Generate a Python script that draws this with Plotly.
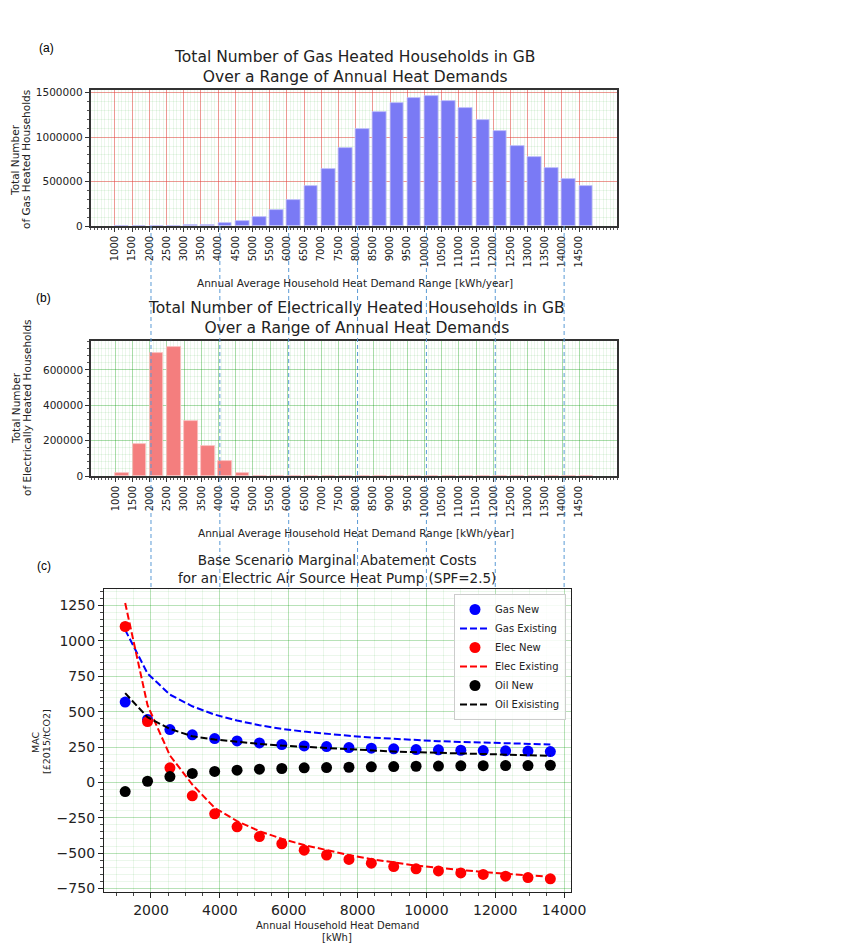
import plotly.graph_objects as go

# ---------------- data ----------------
bins = [1000, 1500, 2000, 2500, 3000, 3500, 4000, 4500, 5000, 5500, 6000, 6500, 7000,
        7500, 8000, 8500, 9000, 9500, 10000, 10500, 11000, 11500, 12000, 12500, 13000,
        13500, 14000, 14500]
bin_labels = [str(b) for b in bins]

gas_households = [0, 0, 1000, 2000, 6000, 15000, 34000, 60000, 102000, 185000, 295000,
                  446000, 645000, 878000, 1092000, 1286000, 1388000, 1440000, 1459000,
                  1406000, 1330000, 1192000, 1070000, 904000, 779000, 658000, 531000, 451000]

elec_households = [18000, 183000, 695000, 727000, 313000, 168000, 82000, 15000, 0, 0, 0, 0,
                   0, 0, 0, 0, 0, 0, 0, 0, 0, 0, 0, 0, 0, 0, 0, 0]

demand_kwh = [1250, 1900, 2550, 3200, 3850, 4500, 5150, 5800, 6450, 7100, 7750, 8400,
              9050, 9700, 10350, 11000, 11650, 12300, 12950, 13600]

gas_new = [568, 445, 373, 336, 310, 293, 279, 267, 258, 253, 246, 242, 237, 232, 230,
           227, 225, 223, 221, 218]
gas_existing = [1078, 770, 620, 538, 479, 437, 404, 378, 359, 343, 329, 317, 307, 298,
                291, 286, 281, 277, 272, 268]
elec_new = [1102, 430, 103, -95, -222, -314, -383, -434, -479, -514, -545, -571, -595,
            -611, -626, -640, -651, -663, -673, -682]
elec_existing = [1268, 545, 190, -15, -180, -274, -345, -399, -443, -481, -514, -543,
                 -566, -588, -604, -620, -634, -646, -658, -668]
oil_new = [-65, 8, 41, 63, 77, 86, 93, 98, 103, 105, 107, 110, 112, 114, 115, 117, 118,
           119, 119, 121]
oil_existing = [631, 460, 378, 326, 303, 286, 272, 260, 251, 242, 232, 225, 218, 213,
                208, 204, 199, 195, 192, 188]

connector_x = [2000, 4000, 6000, 8000, 10000, 12000, 14000]

# ---------------- helpers ----------------
# the page body has an 8px margin, so the figure starts at (8, 8) in the window
OFF = 8
W, H = 864 - OFF, 943 - OFF


def px(x):
    return (x - OFF) / W


def py(y):
    return 1 - (y - OFF) / H


FONT = "DejaVu Sans"
TXT = "#222222"
RED_GRID = "rgba(240,60,60,0.5)"
GREEN_GRID = "rgba(0,150,0,0.28)"
MINOR_GRID = "rgba(0,150,0,0.08)"

fig = go.Figure()

# (a) gas households
fig.add_trace(go.Bar(x=bins, y=gas_households, width=400, offset=0,
                     marker=dict(color="#7a7af5", line=dict(color="#c4c4fa", width=0.8)),
                     xaxis="x", yaxis="y", showlegend=False, hoverinfo="x+y"))
# (b) electric households
fig.add_trace(go.Bar(x=bins, y=elec_households, width=400, offset=0,
                     marker=dict(color="#f47e7e", line=dict(color="#fac2c2", width=0.8)),
                     xaxis="x2", yaxis="y2", showlegend=False, hoverinfo="x+y"))

# (c) MAC
series = [
    ("Gas New", gas_new, "#0000ff", "markers"),
    ("Gas Existing", gas_existing, "#0000ff", "lines"),
    ("Elec New", elec_new, "#ff0000", "markers"),
    ("Elec Existing", elec_existing, "#ff0000", "lines"),
    ("Oil New", oil_new, "#000000", "markers"),
    ("Oil Exisisting", oil_existing, "#000000", "lines"),
]
for name, vals, col, mode in series:
    if mode == "markers":
        fig.add_trace(go.Scatter(x=demand_kwh, y=vals, mode="markers", name=name,
                                 marker=dict(color=col, size=11),
                                 xaxis="x3", yaxis="y3"))
    else:
        fig.add_trace(go.Scatter(x=demand_kwh, y=vals, mode="lines", name=name,
                                 line=dict(color=col, width=2, dash="7px,3px"),
                                 xaxis="x3", yaxis="y3"))


def bar_xaxis(domain, anchor, gridcolor):
    return dict(domain=domain, anchor=anchor, range=[290, 15600],
                tickmode="array", tickvals=bins, ticktext=bin_labels, tickangle=-90,
                ticks="outside", ticklen=4, tickcolor="#333",
                tickfont=dict(family=FONT, size=10, color=TXT),
                showgrid=True, gridcolor=gridcolor, gridwidth=1,
                minor=dict(tickmode="linear", tick0=0, dtick=100, ticks="outside",
                           ticklen=2, tickcolor="#555", showgrid=True,
                           gridcolor=MINOR_GRID),
                showline=True, linecolor="#333", linewidth=1.6, mirror=True,
                zeroline=False, fixedrange=True)


def bar_yaxis(domain, anchor, rng, tickvals, minor_dtick, gridcolor):
    return dict(domain=domain, anchor=anchor, range=rng,
                tickmode="array", tickvals=tickvals, ticktext=[str(v) for v in tickvals],
                ticks="outside", ticklen=4, tickcolor="#333",
                tickfont=dict(family=FONT, size=10.5, color=TXT),
                showgrid=True, gridcolor=gridcolor, gridwidth=1,
                minor=dict(tickmode="linear", tick0=0, dtick=minor_dtick, ticks="outside",
                           ticklen=2, tickcolor="#555", showgrid=True,
                           gridcolor=MINOR_GRID),
                showline=True, linecolor="#333", linewidth=1.6, mirror=True,
                zeroline=False, fixedrange=True)


shapes = []
for cx in connector_x:
    shapes.append(dict(type="line", xref="x3", yref="paper", x0=cx, x1=cx,
                       y0=py(226), y1=py(589),
                       line=dict(color="#5b9bd5", width=1, dash="4px,3px"), layer="above"))


def ann(text, x, y, size, angle=0, family=FONT, color=TXT):
    return dict(text=text, x=px(x), y=py(y), xref="paper", yref="paper",
                showarrow=False, xanchor="center", yanchor="middle",
                textangle=angle, font=dict(family=family, size=size, color=color))


annotations = [
    ann("(a)", 46, 48, 12, family="Liberation Sans", color="#000"),
    ann("(b)", 43, 298, 12, family="Liberation Sans", color="#000"),
    ann("(c)", 44, 566, 12, family="Liberation Sans", color="#000"),
    ann("Total Number of Gas Heated Households in GB<br>"
        "Over a Range of Annual Heat Demands", 355, 67.5, 15.5),
    ann("Total Number of Electrically Heated Households in GB<br>"
        "Over a Range of Annual Heat Demands", 356, 318.5, 15.5),
    ann("Base Scenario Marginal Abatement Costs<br>"
        "for an Electric Air Source Heat Pump (SPF=2.5)", 337, 569, 13.5),
    ann("Total Number", 15, 160, 10.5, angle=-90),
    ann("of Gas Heated Households", 26, 160, 10.5, angle=-90),
    ann("Total Number", 16, 408, 10.5, angle=-90),
    ann("of Electrically Heated Households", 27, 408, 10.5, angle=-90),
    ann("MAC", 35, 742, 9.5, angle=-90),
    ann("[£2015/tCO2]", 46, 742, 9.5, angle=-90),
    ann("Annual Average Household Heat Demand Range [kWh/year]", 355, 283, 10.5),
    ann("Annual Average Household Heat Demand Range [kWh/year]", 356, 533, 10.5),
    ann("Annual Household Heat Demand", 337, 925.5, 10),
    ann("[kWh]", 337, 937, 10),
]

fig.update_layout(
    width=W, height=H,
    margin=dict(l=0, r=0, t=0, b=0, autoexpand=False),
    paper_bgcolor="white", plot_bgcolor="white",
    font=dict(family=FONT, color=TXT),
    bargap=0,
    xaxis=bar_xaxis([px(90.5), px(617)], "y", RED_GRID),
    yaxis=bar_yaxis([py(226), py(90)], "x", [0, 1531000],
                    [0, 500000, 1000000, 1500000], 100000, RED_GRID),
    xaxis2=bar_xaxis([px(91), px(617)], "y2", GREEN_GRID),
    yaxis2=bar_yaxis([py(476), py(341)], "x2", [0, 763000],
                     [0, 200000, 400000, 600000], 40000, GREEN_GRID),
    xaxis3=dict(domain=[px(104), px(571)], anchor="y3", range=[635, 14200],
                tickmode="linear", tick0=0, dtick=2000, tickformat="d",
                ticks="outside", ticklen=5, tickcolor="#222",
                tickfont=dict(family=FONT, size=14, color=TXT),
                showgrid=True, gridcolor=GREEN_GRID, gridwidth=1,
                minor=dict(tickmode="linear", tick0=0, dtick=500, ticks="outside",
                           ticklen=2.5, tickcolor="#444", showgrid=True,
                           gridcolor=MINOR_GRID),
                showline=True, linecolor="#222", linewidth=1.3, mirror=True,
                zeroline=False, fixedrange=True),
    yaxis3=dict(domain=[py(892), py(589)], anchor="x3", range=[-775, 1367],
                tickmode="linear", tick0=0, dtick=250, tickformat="d",
                ticks="outside", ticklen=5, tickcolor="#222",
                tickfont=dict(family=FONT, size=14, color=TXT),
                showgrid=True, gridcolor=GREEN_GRID, gridwidth=1,
                minor=dict(tickmode="linear", tick0=0, dtick=50, ticks="outside",
                           ticklen=2.5, tickcolor="#444", showgrid=True,
                           gridcolor=MINOR_GRID),
                showline=True, linecolor="#222", linewidth=1.3, mirror=True,
                zeroline=False, fixedrange=True),
    legend=dict(x=px(566), y=py(594), xanchor="right", yanchor="top",
                bgcolor="rgba(255,255,255,0.85)", bordercolor="#cccccc", borderwidth=1,
                font=dict(family=FONT, size=10, color=TXT), tracegroupgap=0,
                itemwidth=30),
    shapes=shapes,
    annotations=annotations,
)

fig.write_html("out.html")
